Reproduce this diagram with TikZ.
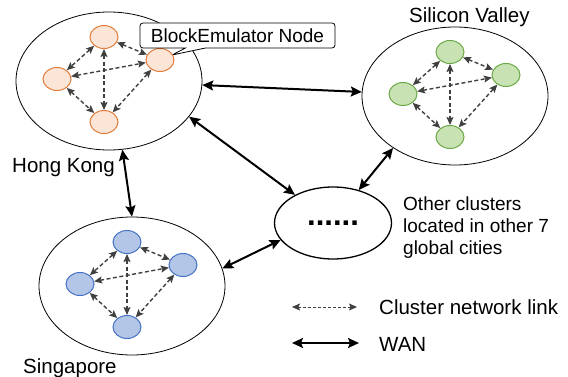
\documentclass[tikz,border=0pt]{standalone}
\usepackage{fontspec}
\setmainfont{Liberation Sans}
\usetikzlibrary{shapes.geometric,shapes.callouts,arrows.meta}

\definecolor{fillhk}{RGB}{251,229,214}
\definecolor{linehk}{RGB}{226,124,56}
\definecolor{fillsv}{RGB}{200,226,180}
\definecolor{linesv}{RGB}{108,168,70}
\definecolor{fillsg}{RGB}{180,198,231}
\definecolor{linesg}{RGB}{68,114,196}
\definecolor{linkgray}{RGB}{64,64,64}

\begin{document}
\begin{tikzpicture}[x=1pt,y=-1pt,
    cluster/.style={draw,ellipse,line width=0.8pt,minimum width=186pt,minimum height=138pt,inner sep=0pt},
    peer/.style={draw,ellipse,line width=1pt,minimum width=28pt,minimum height=23pt,inner sep=0pt},
    link/.style={<->,>={Stealth[length=8pt,width=7pt,inset=1.5pt]},dash pattern=on 4pt off 2.5pt,line width=1.4pt,linkgray},
    wan/.style={<->,>={Stealth[length=11pt,width=10pt,inset=2pt]},line width=2pt},
    citytext/.style={anchor=base west,inner sep=0pt,font=\fontsize{20.5}{24}\selectfont}]
    \useasboundingbox (0,0) rectangle (568,377);

    % Clusters
    \node[cluster] (hk) at (109,81) {};
    \node[cluster] (sv) at (455,96) {};
    \node[cluster] (sg) at (132,286) {};

    % Peers inside each cluster
    \foreach \c/\x/\y in {hk/109/81, sv/455/96, sg/132/286}{
        \node[peer,draw=line\c,fill=fill\c] (\c-t) at (\x-5,\y-44) {};
        \node[peer,draw=line\c,fill=fill\c] (\c-l) at (\x-52,\y-2) {};
        \node[peer,draw=line\c,fill=fill\c] (\c-r) at (\x+51,\y-21) {};
        \node[peer,draw=line\c,fill=fill\c] (\c-b) at (\x-5,\y+41) {};
        \foreach \a/\b in {t/l,t/r,t/b,l/r,l/b,r/b}
            \draw[link] (\c-\a) -- (\c-\b);
    }

    \node[rectangle callout,draw,fill=white,rounded corners=3pt,line width=0.8pt,
          minimum width=195pt,minimum height=25pt,inner sep=0pt,
          callout absolute pointer={(172,55)},callout pointer width=20pt,
          font=\fontsize{19}{22}\selectfont] (tag) at (237.5,35.5) {BlockEmulator Node};

    % Other cities
    \node[draw,ellipse,line width=1.3pt,minimum width=117pt,minimum height=72pt,inner sep=0pt,
          font=\fontsize{31}{31}\bfseries\selectfont] (others) at (333,223) {......};

    % WAN
    \draw[wan] (hk) -- (sv);
    \draw[wan] (hk.-24) -- (others);
    \draw[wan] (sv.-140) -- (others.52);
    \draw[wan] (hk.-79) -- (sg.north);
    \draw[wan] (sg.11) -- (others.198);

    % Labels
    \node[citytext] (hklabel) at (12,173) {Hong Kong};
    \node[citytext] (svlabel) at (409,23) {Silicon Valley};
    \node[citytext] (sglabel) at (23,373) {Singapore};
    \node[anchor=west,inner sep=0pt,align=left,font=\fontsize{19}{22}\selectfont] (othertext) at (403,228)
        {Other clusters\\located in other 7\\global cities};

    % Legend
    \coordinate (k1) at (292,307);
    \coordinate (k2) at (357,307);
    \coordinate (w1) at (292,343);
    \coordinate (w2) at (359,343);
    \draw[link,line width=1pt,dash pattern=on 3pt off 2pt] (k1) -- (k2);
    \draw[wan] (w1) -- (w2);
    \node[citytext] (linktext) at (379,314) {Cluster network link};
    \node[citytext] (wantext) at (379,351) {WAN};
\end{tikzpicture}
\end{document}
